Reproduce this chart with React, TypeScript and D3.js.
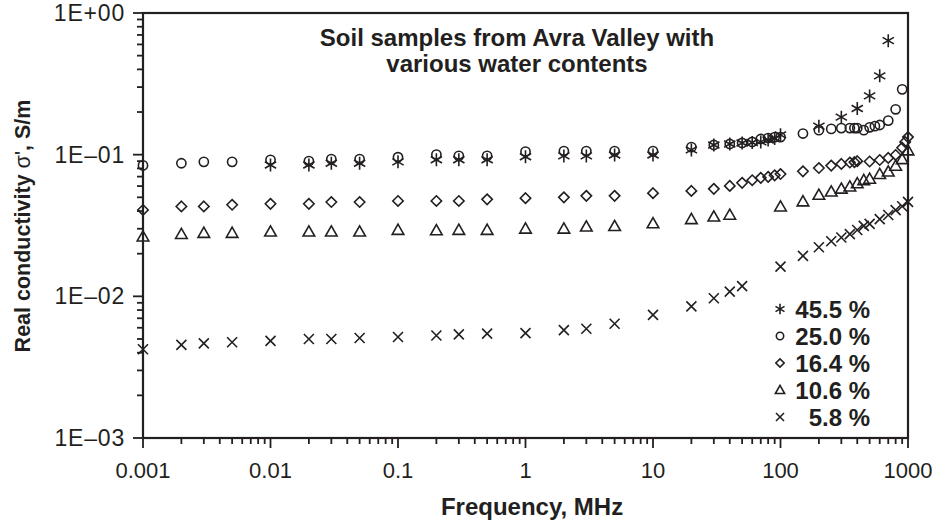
import React from "react";
import * as d3 from "d3";

const F_LOW = [0.001, 0.002, 0.003, 0.005, 0.01, 0.02, 0.03, 0.05, 0.1, 0.2, 0.3, 0.5, 1, 2, 3, 5, 10];

const asteriskFreq = [0.01, 0.02, 0.03, 0.05, 0.1, 0.2, 0.3, 0.5, 1, 2, 3, 5, 10, 20, 30, 40, 50, 60, 70, 80, 90, 100, 200, 300, 400, 500, 600, 700];
const asteriskVals = [0.0845, 0.0845, 0.087, 0.087, 0.089, 0.092, 0.092, 0.092, 0.0966, 0.098, 0.098, 0.0995, 0.0995, 0.108, 0.117, 0.119, 0.121, 0.122, 0.123, 0.127, 0.13, 0.138, 0.159, 0.184, 0.212, 0.26, 0.36, 0.638];

const circleFreq = [...F_LOW, 20, 30, 40, 50, 60, 70, 80, 90, 100, 150, 200, 250, 300, 350, 380, 400, 450, 500, 550, 600, 700, 800, 900];
const circleVals = [0.084, 0.087, 0.089, 0.089, 0.092, 0.09, 0.093, 0.093, 0.096, 0.1, 0.098, 0.098, 0.105, 0.106, 0.106, 0.106, 0.106, 0.113, 0.117, 0.119, 0.121, 0.123, 0.129, 0.131, 0.133, 0.133, 0.141, 0.149, 0.152, 0.154, 0.154, 0.154, 0.154, 0.149, 0.156, 0.159, 0.162, 0.174, 0.209, 0.289];

const diamondFreq = [...F_LOW, 20, 30, 40, 50, 60, 70, 80, 90, 100, 150, 200, 250, 300, 350, 380, 400, 500, 600, 700, 800, 900, 950, 1000];
const diamondVals = [0.0407, 0.0431, 0.0431, 0.0443, 0.045, 0.045, 0.0463, 0.0463, 0.0471, 0.0471, 0.0471, 0.0484, 0.0493, 0.05, 0.0512, 0.0512, 0.0535, 0.0555, 0.0574, 0.0602, 0.0633, 0.066, 0.0686, 0.0697, 0.0715, 0.073, 0.0763, 0.0805, 0.0837, 0.086, 0.088, 0.0885, 0.09, 0.0895, 0.0917, 0.0948, 0.0995, 0.112, 0.123, 0.133];

const triangleFreq = [...F_LOW, 20, 30, 40, 100, 150, 200, 250, 300, 350, 400, 450, 500, 600, 700, 800, 900, 1000];
const triangleVals = [0.0264, 0.0275, 0.028, 0.028, 0.0286, 0.0286, 0.0286, 0.0286, 0.0294, 0.0292, 0.0294, 0.0294, 0.03, 0.03, 0.031, 0.0313, 0.0327, 0.035, 0.0365, 0.0376, 0.043, 0.0467, 0.052, 0.0548, 0.0574, 0.0595, 0.0627, 0.066, 0.0675, 0.0729, 0.0758, 0.0834, 0.0928, 0.107];

const crossFreq = [...F_LOW, 20, 30, 40, 50, 100, 150, 200, 250, 300, 350, 400, 450, 500, 600, 700, 800, 900, 1000];
const crossVals = [0.00423, 0.00454, 0.00466, 0.00474, 0.00485, 0.005, 0.005, 0.00508, 0.00516, 0.00529, 0.00539, 0.00546, 0.0055, 0.00578, 0.0059, 0.0064, 0.0074, 0.0085, 0.0097, 0.0108, 0.0118, 0.0162, 0.0193, 0.0222, 0.0245, 0.026, 0.0275, 0.0294, 0.0314, 0.0325, 0.0351, 0.0375, 0.0406, 0.0432, 0.0464];

const legendLabels = ["45.5 %", "25.0 %", "16.4 %", "10.6 %", "5.8 %"];
const xTickLabels = ["0.001", "0.01", "0.1", "1", "10", "100", "1000"];
const yTickLabels = ["1E+00", "1E\u201301", "1E\u201302", "1E\u201303"];
const yTickVals = [1, 0.1, 0.01, 0.001];

const FONT = "'Liberation Sans', Arial, Helvetica, sans-serif";
const INK = "#231f20";

type Kind = "asterisk" | "circle" | "diamond" | "triangle" | "cross";

function Marker({ kind, x, y, s = 1 }: { kind: Kind; x: number; y: number; s?: number }) {
  const sw = 1.6;
  const common = { fill: "none", stroke: INK, strokeWidth: sw };
  if (kind === "circle") return <circle cx={x} cy={y} r={4.6 * s} {...common} />;
  if (kind === "diamond") {
    const r = 5.2 * s;
    return <path d={`M${x},${y - r}L${x + r},${y}L${x},${y + r}L${x - r},${y}Z`} {...common} />;
  }
  if (kind === "triangle") {
    const r = 5.8 * s;
    return <path d={`M${x},${y - r}L${x + r},${y + r * 0.75}L${x - r},${y + r * 0.75}Z`} {...common} />;
  }
  if (kind === "cross") {
    const r = 5 * s;
    return <path d={`M${x - r},${y - r}L${x + r},${y + r}M${x - r},${y + r}L${x + r},${y - r}`} {...common} />;
  }
  const r = 6.5 * s;
  const c = Math.cos(Math.PI / 6) * r;
  const h = Math.sin(Math.PI / 6) * r;
  return <path d={`M${x},${y - r}L${x},${y + r}M${x - c},${y - h}L${x + c},${y + h}M${x - c},${y + h}L${x + c},${y - h}`} {...common} />;
}

export default function App() {
  const W = 936, H = 523;
  const L = 143, R = 908, T = 13, B = 438;
  const x = d3.scaleLog().domain([0.001, 1000]).range([L, R]);
  const y = d3.scaleLog().domain([0.001, 1]).range([B, T]);

  const series: { kind: Kind; f: number[]; v: number[] }[] = [
    { kind: "cross", f: crossFreq, v: crossVals },
    { kind: "triangle", f: triangleFreq, v: triangleVals },
    { kind: "diamond", f: diamondFreq, v: diamondVals },
    { kind: "circle", f: circleFreq, v: circleVals },
    { kind: "asterisk", f: asteriskFreq, v: asteriskVals },
  ];
  const legendKinds: Kind[] = ["asterisk", "circle", "diamond", "triangle", "cross"];

  const xTicks = x.ticks();
  const yTicks = y.ticks();
  const isMajor = (t: number) => Math.abs(Math.log10(t) - Math.round(Math.log10(t))) < 1e-9;

  return (
    <svg width={W} height={H} style={{ display: "block", position: "absolute", left: 0, top: 0 }} fontFamily={FONT}>
      <rect width={W} height={H} fill="#fff" />
      {xTicks.map((t, i) => (
        <line key={"xt" + i} x1={x(t)} x2={x(t)} y1={B} y2={B + (isMajor(t) ? 10 : 6)} stroke={INK} strokeWidth={1.8} />
      ))}
      {yTicks.map((t, i) => (
        <line key={"yt" + i} x1={L - (isMajor(t) ? 10 : 6)} x2={L} y1={y(t)} y2={y(t)} stroke={INK} strokeWidth={1.8} />
      ))}
      <rect x={L} y={T} width={R - L} height={B - T} fill="none" stroke={INK} strokeWidth={2.2} />
      {xTickLabels.map((lab, i) => (
        <text key={"xl" + i} x={x(Math.pow(10, i - 3))} y={478} textAnchor="middle" fontSize={22} fill={INK}>{lab}</text>
      ))}
      {yTickLabels.map((lab, i) => (
        <text key={"yl" + i} x={125} y={y(yTickVals[i]) + 8} textAnchor="end" fontSize={23} letterSpacing={0.8} fill={INK}>{lab}</text>
      ))}
      <text x={532} y={515} textAnchor="middle" fontSize={24} fontWeight="bold" fill={INK}>Frequency, MHz</text>
      <text transform={`translate(30,226) rotate(-90)`} textAnchor="middle" fontSize={21.5} fontWeight="bold" fill={INK}>
        Real conductivity <tspan fontWeight="normal">σ'</tspan>, S/m
      </text>
      <text x={517} y={46} textAnchor="middle" fontSize={24} fontWeight="bold" fill={INK}>Soil samples from Avra Valley with</text>
      <text x={517} y={72} textAnchor="middle" fontSize={24} fontWeight="bold" fill={INK}>various water contents</text>
      {series.map((s) => (
        <g key={s.kind}>
          {s.f.map((f, i) => (
            <Marker key={i} kind={s.kind} x={x(f)} y={y(s.v[i])} />
          ))}
        </g>
      ))}
      {legendLabels.map((lab, i) => (
        <g key={"lg" + i}>
          <Marker kind={legendKinds[i]} x={780} y={309 + i * 27} s={0.8} />
          <text x={870} y={318 + i * 27} textAnchor="end" fontSize={24} fontWeight="bold" fill={INK}>{lab}</text>
        </g>
      ))}
    </svg>
  );
}
